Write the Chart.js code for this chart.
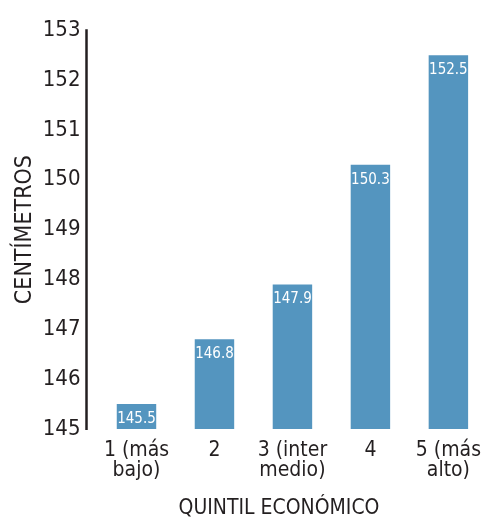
<!DOCTYPE html>
<html>
<head>
<meta charset="utf-8">
<script src="https://cdn.jsdelivr.net/npm/chart.js@4.4.0/dist/chart.umd.min.js"></script>
<style>
  body { margin: 0; background: #fff; }
  #wrap { width: 493px; height: 522px; }
</style>
</head>
<body>
<div id="wrap"><canvas id="myChart"></canvas></div>
<script>
"use strict"
let quintiles = [['1 (más', 'bajo)'], '2', ['3 (inter', 'medio)'], '4', ['5 (más', 'alto)']];
let heights = [145.5, 146.8, 147.9, 150.3, 152.5];
let yTicks = [145, 146, 147, 148, 149, 150, 151, 152, 153];
let xTitle = 'QUINTIL ECONÓMICO';
let yTitle = 'CENTÍMETROS';

let fontName = '"Liberation Sans Narrow", "DejaVu Sans Condensed", sans-serif';
let ink = '#231f20';

// white value labels inside the top of each bar + axis line + titles
let extras = {
    id: 'extras',
    afterDatasetsDraw(chart) {
        let ctx = chart.ctx;
        let meta = chart.getDatasetMeta(0);
        ctx.save();
        ctx.fillStyle = '#ffffff';
        ctx.font = '15px ' + fontName;
        ctx.textAlign = 'center';
        ctx.textBaseline = 'middle';
        meta.data.forEach(function (bar, i) {
            ctx.fillText(heights[i].toFixed(1), bar.x, bar.y + 15);
        });
        ctx.restore();
    },
    afterDraw(chart) {
        let ctx = chart.ctx;
        let area = chart.chartArea;
        let y = chart.scales.y;
        ctx.save();
        ctx.strokeStyle = ink;
        ctx.lineWidth = 2.5;
        ctx.beginPath();
        ctx.moveTo(area.left - 11, y.getPixelForValue(153) - 1);
        ctx.lineTo(area.left - 11, y.getPixelForValue(145) + 1);
        ctx.stroke();

        ctx.fillStyle = ink;
        ctx.font = '21px ' + fontName;
        ctx.textAlign = 'center';
        ctx.textBaseline = 'middle';
        ctx.fillText(xTitle, 279, 509);
        ctx.font = '23px ' + fontName;
        ctx.translate(25, (area.top + area.bottom) / 2);
        ctx.rotate(-Math.PI / 2);
        ctx.fillText(yTitle, 0, 0);
        ctx.restore();
    }
};

let ctx = document.getElementById('myChart').getContext('2d');
let myChart = new Chart(ctx, {
    type: 'bar',
    data: {
        labels: quintiles,
        datasets: [{
            data: heights,
            backgroundColor: '#5495bf',
            borderWidth: 0,
            categoryPercentage: 1,
            barPercentage: 0.506
        }]
    },
    options: {
        responsive: true,
        maintainAspectRatio: false,
        animation: false,
        layout: { padding: { top: 24, right: 0, left: 0, bottom: 0 } },
        plugins: {
            legend: { display: false },
            tooltip: { enabled: false }
        },
        scales: {
            x: {
                grid: { display: false, drawTicks: false, tickLength: 0 },
                border: { display: false },
                ticks: {
                    color: ink,
                    padding: 12,
                    maxRotation: 0,
                    autoSkip: false,
                    font: { family: fontName, size: 21, lineHeight: 0.95 }
                },
                afterFit: function (scale) { scale.height = 93; }
            },
            y: {
                min: 145,
                max: 153,
                afterBuildTicks: function (scale) {
                    scale.ticks = yTicks.map(function (v) { return { value: v }; });
                },
                grid: { display: false, drawTicks: false, tickLength: 0 },
                border: { display: false },
                ticks: {
                    color: ink,
                    padding: 17,
                    font: { family: fontName, size: 22 }
                },
                afterFit: function (scale) { scale.width = 97.5; }
            }
        }
    },
    plugins: [extras]
});
</script>
</body>
</html>
